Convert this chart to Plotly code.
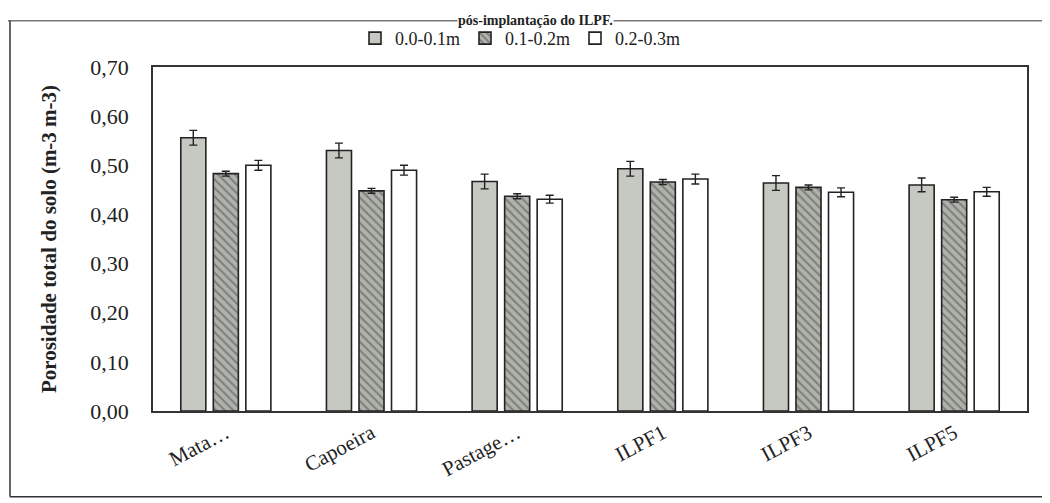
import plotly.graph_objects as go

categories = ["Mata…", "Capoeira", "Pastage…", "ILPF1", "ILPF3", "ILPF5"]
series_names = ["0.0-0.1m", "0.1-0.2m", "0.2-0.3m"]
depth_0_10 = [0.556, 0.530, 0.467, 0.493, 0.464, 0.460]
depth_10_20 = [0.483, 0.448, 0.437, 0.466, 0.455, 0.430]
depth_20_30 = [0.500, 0.490, 0.431, 0.472, 0.445, 0.446]
err_0_10 = [0.015, 0.015, 0.015, 0.015, 0.015, 0.014]
err_10_20 = [0.005, 0.005, 0.005, 0.005, 0.005, 0.005]
err_20_30 = [0.010, 0.010, 0.008, 0.010, 0.009, 0.009]
y_ticks = [0.0, 0.1, 0.2, 0.3, 0.4, 0.5, 0.6, 0.7]

FONT = "Liberation Serif"

fig = go.Figure()
fig.add_trace(go.Bar(
    name=series_names[0], x=categories, y=depth_0_10,
    marker=dict(color="#c6c9c2", line=dict(color="#222", width=1.6)),
    error_y=dict(type="data", array=err_0_10, color="#222", thickness=1.4, width=4),
))
fig.add_trace(go.Bar(
    name=series_names[1], x=categories, y=depth_10_20,
    marker=dict(color="#a9aba5", line=dict(color="#222", width=1.6),
                pattern=dict(shape="\\", fgcolor="#4a4c48", bgcolor="#b0b2ac", size=6, solidity=0.35)),
    error_y=dict(type="data", array=err_10_20, color="#222", thickness=1.4, width=4),
))
fig.add_trace(go.Bar(
    name=series_names[2], x=categories, y=depth_20_30,
    marker=dict(color="#ffffff", line=dict(color="#222", width=1.6)),
    error_y=dict(type="data", array=err_20_30, color="#222", thickness=1.4, width=4),
))

# page offset (body margin) of 8px
OFF = 8
W, H = 1050 - OFF, 503 - OFF
L, T = 153 - OFF, 62 - OFF
R = W - (1027 - OFF)
B = H - (411 - OFF)
pw, ph = W - L - R, H - T - B

def px(xp):
    return (xp - OFF - L) / pw

def py(yp):
    return (H - B - (yp - OFF)) / ph

fig.update_layout(
    width=W, height=H,
    margin=dict(l=L, r=R, t=T, b=B),
    paper_bgcolor="#ffffff", plot_bgcolor="#ffffff",
    separators=",.",
    barmode="group", bargap=0.33, bargroupgap=0.23,
    font=dict(family=FONT, color="#222"),
    showlegend=True,
    legend=dict(orientation="h", x=px(520), xanchor="center", y=py(33), yanchor="middle",
                font=dict(family=FONT, size=18, color="#222"), itemwidth=30,
                bgcolor="rgba(0,0,0,0)", traceorder="normal"),
    xaxis=dict(showline=True, linecolor="#333", linewidth=1.5, mirror=True,
               tickangle=-28, tickfont=dict(family=FONT, size=21, color="#222"),
               ticks="", showgrid=False),
    yaxis=dict(range=[0, 0.7], tickvals=y_ticks, tickformat=".2f",
               showline=True, linecolor="#333", linewidth=1.5, mirror=True,
               showgrid=False, zeroline=False, ticks="", ticklabelstandoff=18,
               tickfont=dict(family=FONT, size=22, color="#222"),
               title=dict(text="<b>Porosidade total do solo (m-3 m-3)</b>",
                          font=dict(family=FONT, size=21, color="#222"), standoff=28)),
    shapes=[
        dict(type="line", xref="paper", yref="paper", x0=px(8), x1=px(1060), y0=py(15), y1=py(15),
             line=dict(color="#777", width=1.5)),
        dict(type="line", xref="paper", yref="paper", x0=px(10), x1=px(10), y0=py(15), y1=py(498),
             line=dict(color="#333", width=1.5)),
        dict(type="line", xref="paper", yref="paper", x0=px(10), x1=px(1060), y0=py(498), y1=py(498),
             line=dict(color="#333", width=1.5)),
    ],
    annotations=[
        dict(text="<b>pós-implantação do ILPF.</b>", xref="paper", yref="paper",
             x=px(535), y=py(15), xanchor="center", yanchor="middle", showarrow=False,
             bgcolor="#ffffff", borderpad=0,
             font=dict(family=FONT, size=14, color="#222")),
    ],
)

fig.write_html("out.html")
